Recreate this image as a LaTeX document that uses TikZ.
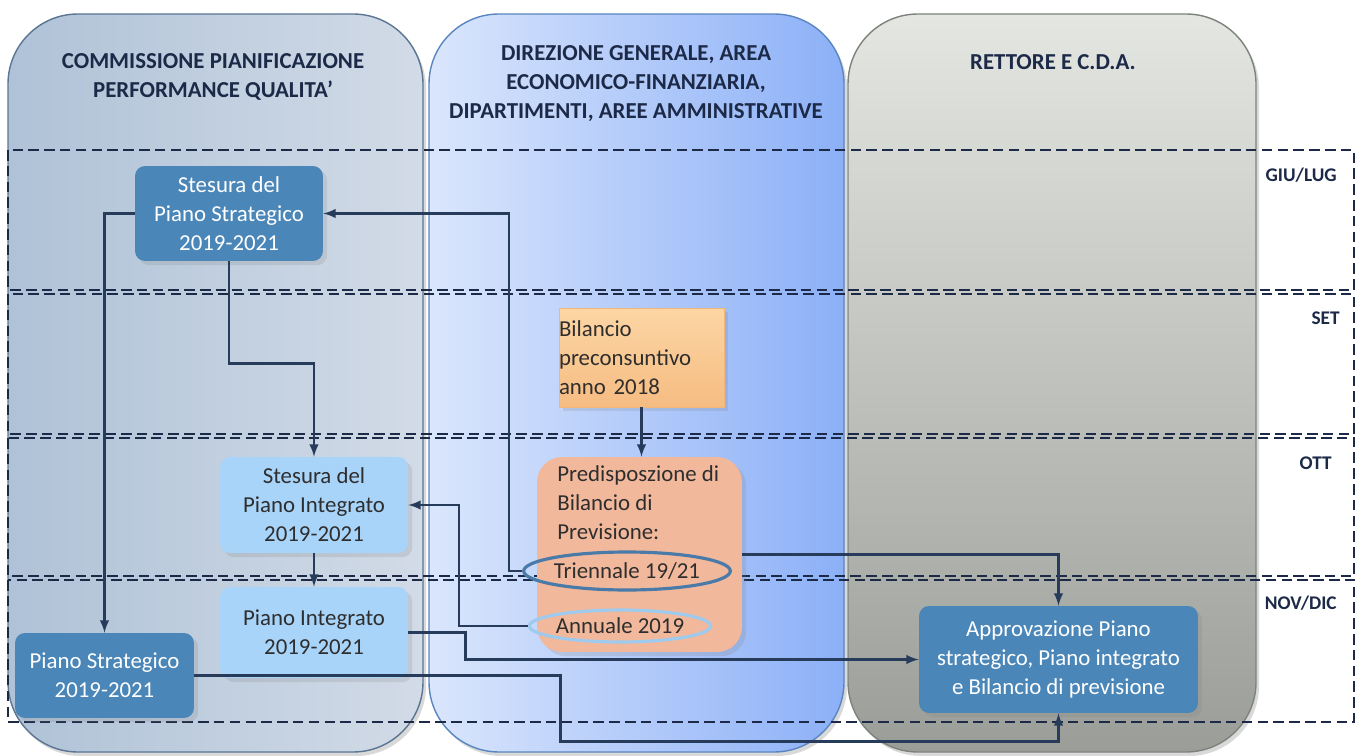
\documentclass[tikz,border=0pt]{standalone}
\usepackage{fontspec}
\setmainfont{Carlito}
\usetikzlibrary{shapes.geometric, arrows, positioning, shadows}

\definecolor{navy}{HTML}{1C2A48}
\definecolor{linecol}{HTML}{263C5A}
\definecolor{textgrey}{HTML}{2E2E2E}
\definecolor{darkblue}{HTML}{4A86B8}
\definecolor{lightblue}{HTML}{A9D4F9}
\definecolor{salmon}{HTML}{F2B89C}
\definecolor{ringdark}{HTML}{4A7AA8}
\definecolor{ringlight}{HTML}{9ECAEE}
\definecolor{leftA}{HTML}{AFC2D7}
\definecolor{leftB}{HTML}{D2DBE7}
\definecolor{leftedge}{HTML}{5B7593}
\definecolor{midA}{HTML}{DAE6FC}
\definecolor{midB}{HTML}{8CB0F7}
\definecolor{midedge}{HTML}{5A86C0}
\definecolor{rightA}{HTML}{E4E6E2}
\definecolor{rightB}{HTML}{9A9D98}
\definecolor{rightedge}{HTML}{7D837C}
\definecolor{orangeA}{HTML}{FCD6A4}
\definecolor{orangeB}{HTML}{F6BC82}
\definecolor{orangeedge}{HTML}{F2B57A}

\begin{document}
\begin{tikzpicture}[
        x = 0.02cm, y = -0.02cm,
        every node/.style = {font=\fontsize{13}{16.5}\selectfont, inner sep=0pt},
        panel/.style = {line width=0.8pt, rounded corners=1.4cm,
            drop shadow={opacity=0.3, shadow xshift=0.06cm, shadow yshift=-0.08cm}},
        band/.style = {draw=navy, line width=1.4pt, dash pattern=on 6pt off 3pt},
        header/.style = {font=\bfseries\fontsize{13}{16.5}\selectfont, text=navy, align=center},
        month/.style = {font=\bfseries\fontsize{11}{13}\selectfont, text=navy, anchor=east},
        darkbox/.style = {fill=darkblue, text=white, rounded corners=0.2cm, align=center,
            drop shadow={opacity=0.2}},
        lightbox/.style = {fill=lightblue, text=textgrey, rounded corners=0.2cm, align=center,
            drop shadow={opacity=0.2}},
        ring/.style = {ellipse, draw=#1, line width=1.8pt, text=textgrey},
        line/.style = {draw=linecol, line width=1.4pt, -latex}
    ]
    \useasboundingbox (0,0) rectangle (1364,756);

    % Columns
    \path [panel, draw=leftedge, left color=leftA, right color=leftB] (8,14) rectangle (423,752);
    \path [panel, draw=midedge, left color=midA, right color=midB] (429,14) rectangle (844,752);
    \path [panel, draw=rightedge, top color=rightA, bottom color=rightB] (848,14) rectangle (1256,752);

    \node [header] (commissione) at (213,77) {COMMISSIONE PIANIFICAZIONE\\PERFORMANCE QUALITA'};
    \node [header] (direzione) at (636,84) {DIREZIONE GENERALE, AREA\\ECONOMICO-FINANZIARIA,\\DIPARTIMENTI, AREE AMMINISTRATIVE};
    \node [header] (rettore) at (1053,62) {RETTORE E C.D.A.};

    % Time bands
    \draw [band] (8,150) rectangle (1354,290);
    \draw [band] (8,294) rectangle (1354,434);
    \draw [band] (8,438) rectangle (1354,576);
    \draw [band] (8,580) rectangle (1354,722);
    \node [month] (giulug) at (1337,175) {GIU/LUG};
    \node [month] (set) at (1340,318) {SET};
    \node [month] (ott) at (1332,463) {OTT};
    \node [month] (novdic) at (1337,603) {NOV/DIC};

    % Nodes
    \node [darkbox, minimum width=3.76cm, minimum height=1.9cm] (stesurastrategico) at (229,213.5)
        {Stesura del\\Piano Strategico\\2019-2021};
    \node [lightbox, minimum width=3.76cm, minimum height=1.92cm] (stesuraintegrato) at (314,505)
        {Stesura del\\Piano Integrato\\2019-2021};
    \node [lightbox, minimum width=3.76cm, minimum height=1.82cm] (pianointegrato) at (314,632.5)
        {Piano Integrato\\2019-2021};
    \node [darkbox, minimum width=3.58cm, minimum height=1.7cm] (pianostrategico) at (104.5,675.5)
        {Piano Strategico\\2019-2021};
    \node [darkbox, minimum width=5.58cm, minimum height=2.14cm] (approvazione) at (1058.5,659.5)
        {Approvazione Piano\\strategico, Piano integrato\\e Bilancio di previsione};

    \node [top color=orangeA, bottom color=orangeB, draw=orangeedge, text=textgrey, align=left,
        text width=3.3cm, minimum height=1.98cm, drop shadow={opacity=0.2}] (preconsuntivo) at (641.5,357.5)
        {Bilancio\\preconsuntivo\\anno 2018};

    \node [fill=salmon, rounded corners=0.5cm, minimum width=4.1cm, minimum height=3.9cm,
        drop shadow={opacity=0.2}] (predisposizione) at (639.5,554.5) {};
    \node [anchor=north west, align=left, text=textgrey] (predtext) at (557,465)
        {Predisposzione di\\Bilancio di\\Previsione:};
    \node [ring=ringdark, minimum width=3.38cm, minimum height=0.76cm] (triennale) at (627,571)
        {Triennale 19/21};
    \node [ring=ringlight, minimum width=3.18cm, minimum height=0.64cm] (annuale) at (620,626)
        {Annuale 2019};

    % Lines
    \path [line] (stesurastrategico.west) -| (pianostrategico.north);
    \path [line] (stesurastrategico.south) -- ++(0,102) -| (stesuraintegrato.north);
    \path [line] (triennale.west) -- ++(-13,0) |- (stesurastrategico.east);
    \path [line] (annuale.west) -- ++(-69,0) |- (stesuraintegrato.east);
    \path [line] (stesuraintegrato.south) -- (pianointegrato.north);
    \path [line] (preconsuntivo.south) -- (preconsuntivo.south |- predisposizione.north);
    \path [line] (predisposizione.east) -| (approvazione.north);
    \path [line] (pianointegrato.east) -- ++(57,0) |- (approvazione.west);
    \path [line] (pianostrategico.east) -- ++(366,0) -- ++(0,66) -| (approvazione.south);

\end{tikzpicture}
\end{document}
